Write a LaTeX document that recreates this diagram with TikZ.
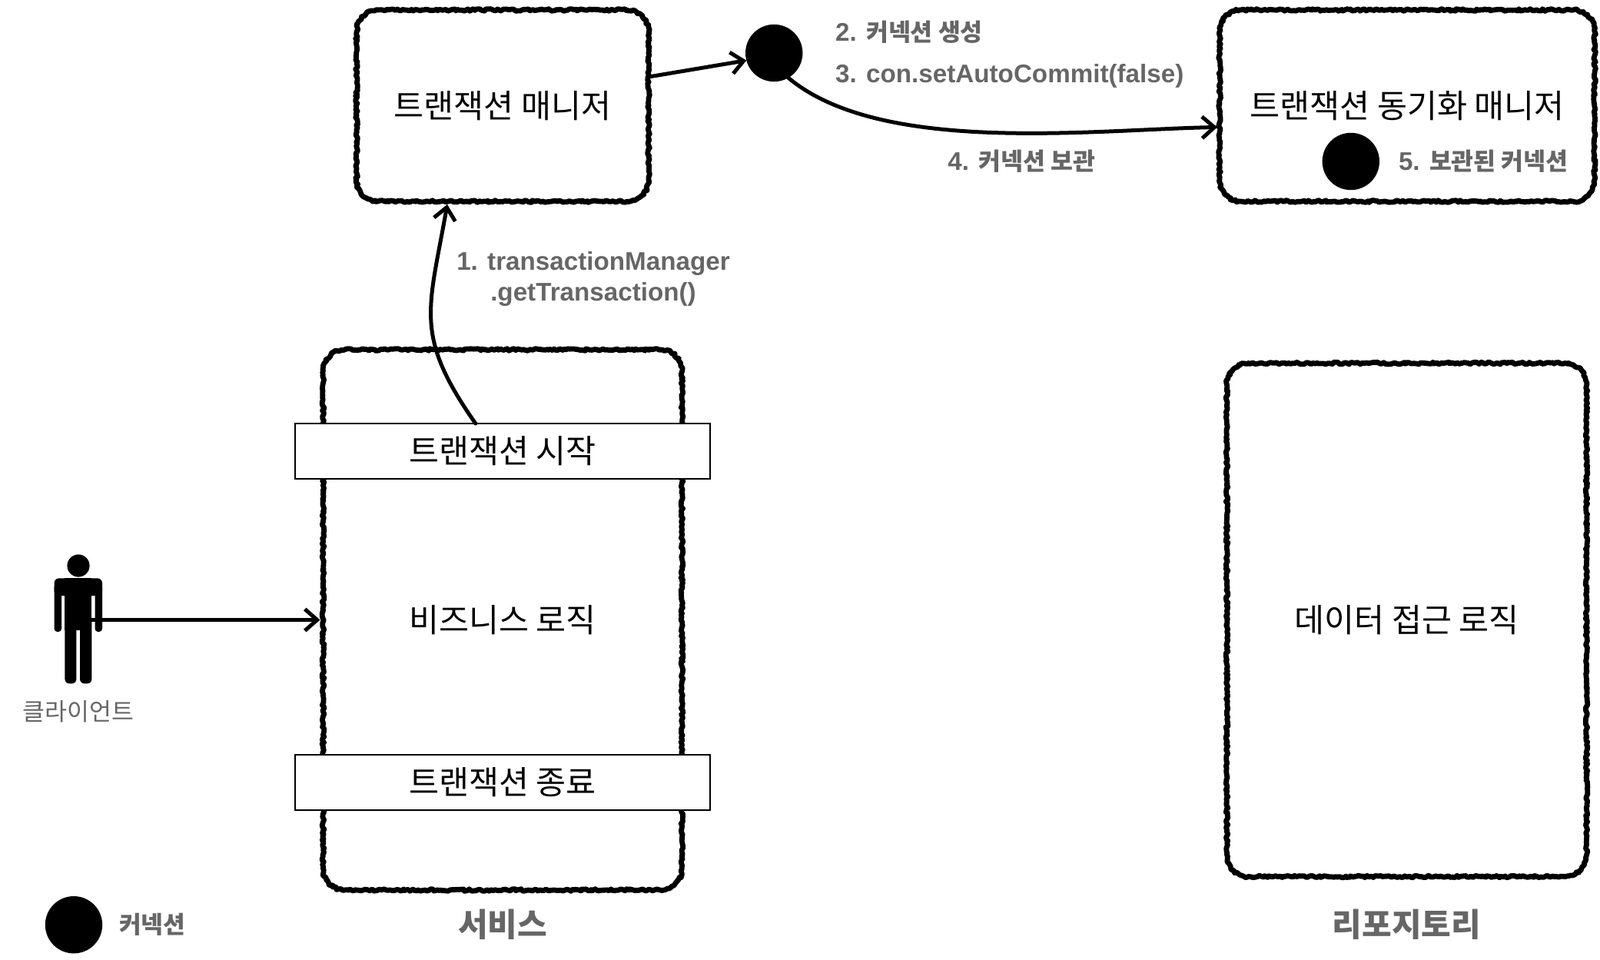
\documentclass[tikz,border=0pt]{standalone}
\usepackage{fontspec}
\setmainfont{Liberation Sans}
\newfontfamily\kofont{Noto Sans CJK KR}
\newcommand{\kotag}{\kofont\fontsize{15.7}{20}\selectfont}
\usepackage{tikz}
\usetikzlibrary{positioning,decorations.pathmorphing,arrows.meta}

\begin{document}
\begin{tikzpicture}[x=1pt, y=1pt, >={Straight Barb[length=8pt,width=14pt]}]
	\tikzstyle{area} = [rectangle, align=center, inner sep=0pt, outer sep=0pt, font=\kofont\fontsize{21.2}{25}\selectfont];
	\tikzstyle{rough} = [draw=black, line width=3.4pt, line join=round, line cap=round, decorate, decoration={random steps, segment length=1.3pt, amplitude=0.7pt}];
	\tikzstyle{phase} = [rectangle, draw=black, line width=1.1pt, fill=white, minimum width=270pt, minimum height=36pt, inner sep=0pt, outer sep=0pt, font=\kofont\fontsize{21.2}{25}\selectfont];
	\tikzstyle{conn} = [circle, fill=black, minimum size=37.2pt, inner sep=0pt, outer sep=0pt];
	\tikzstyle{tag} = [align=center, inner sep=0pt, outer sep=0pt, text=black!60, font=\bfseries\fontsize{16.6}{20}\selectfont];
	\tikzstyle{title} = [inner sep=0pt, outer sep=0pt, text=black!60, font=\kofont\bfseries\fontsize{21}{25}\selectfont];
	\tikzstyle{link} = [draw=black, line width=2.5pt, line cap=round, ->];

	\useasboundingbox (0,0) rectangle (1041,-624);

	\node[area, minimum width=190pt, minimum height=124.5pt](tx manager) at (327,-68.75){트랜잭션 매니저};
	\node[area, minimum width=244pt, minimum height=124.5pt, right = 371.5pt of tx manager](tx sync){트랜잭션 동기화 매니저};
	\node[area, minimum width=233.5pt, minimum height=351.5pt, below = 96.5pt of tx manager](service){비즈니스 로직};
	\node[area, minimum width=234pt, minimum height=334pt, right = 354.5pt of service](repo){데이터 접근 로직};

	% hand drawn frames round the four areas
	\foreach \area in {tx manager, tx sync, service, repo}
		\draw[rough] ([xshift=14pt]\area.north west) -- ([xshift=-14pt]\area.north east)
		arc[start angle=90, end angle=0, radius=14pt] -- ([yshift=14pt]\area.south east)
		arc[start angle=0, end angle=-90, radius=14pt] -- ([xshift=14pt]\area.south west)
		arc[start angle=270, end angle=180, radius=14pt] -- ([yshift=-14pt]\area.north west)
		arc[start angle=180, end angle=90, radius=14pt] -- cycle;

	\node[phase, below = 48pt of service.north](tx start){트랜잭션 시작};
	\node[phase, above = 52pt of service.south](tx end){트랜잭션 종료};
	\node[conn, right = 63pt of tx manager, yshift=34.25pt](conn new){};
	\node[conn, left = 140pt of tx sync.south east, yshift=26pt](conn kept){};
	\node[conn](conn legend) at (48,-601.6){};

	\node[tag, right = 21.4pt of conn new, yshift=13.5pt](label create){2. {\kotag 커넥션 생성}};
	\node[tag, below = 28.5pt of label create.west, anchor=west](label auto){3. con.setAutoCommit(false)};
	\node[tag, left = 81pt of tx sync.west, yshift=-36pt](label hold){4. {\kotag 커넥션 보관}};
	\node[tag, right = 12.5pt of conn kept](label kept){5. {\kotag 보관된 커넥션}};
	\node[tag, below = 32.5pt of tx manager.south, xshift=59pt](label get){1. transactionManager \\ .getTransaction()};
	\node[tag, right = 11pt of conn legend, font=\kofont\bfseries\fontsize{15.6}{20}\selectfont](label legend){커넥션};
	\node[title, below = 12.5pt of service](label service){서비스};
	\node[title, below = 21pt of repo](label repo){리포지토리};

	% client figure
	\fill (51,-368) circle (7.3);
	\fill[rounded corners=3pt] (35.3,-376.2) rectangle (66.5,-387.5);
	\fill[rounded corners=2pt] (35.3,-380) rectangle (40,-411);
	\fill[rounded corners=2pt] (61.8,-380) rectangle (66.5,-411);
	\fill (42.2,-376.2) rectangle (59.7,-410);
	\fill[rounded corners=3pt] (42.2,-400) rectangle (49.7,-444.7);
	\fill[rounded corners=3pt] (52,-400) rectangle (59.7,-444.7);
	\coordinate (client) at (59.7,-403.25);
	\node[inner sep=0pt, text=black!60, font=\kofont\fontsize{15.7}{20}\selectfont](label client) at (51,-463){클라이언트};

	\draw[link] (client) -- ([xshift=-2pt]service.west);
	\draw[link] ([xshift=1.5pt,yshift=19pt]tx manager.east) -- (conn new.195);
	\draw[link] (conn new.-60) to[out=-40, in=181, looseness=0.72] ([xshift=-1.5pt,yshift=-14pt]tx sync.west);
	\draw[link] ([xshift=-17.6pt]tx start.north) to[out=125, in=-100, looseness=1.25] ([xshift=-36pt,yshift=-2pt]tx manager.south);
\end{tikzpicture}
\end{document}
